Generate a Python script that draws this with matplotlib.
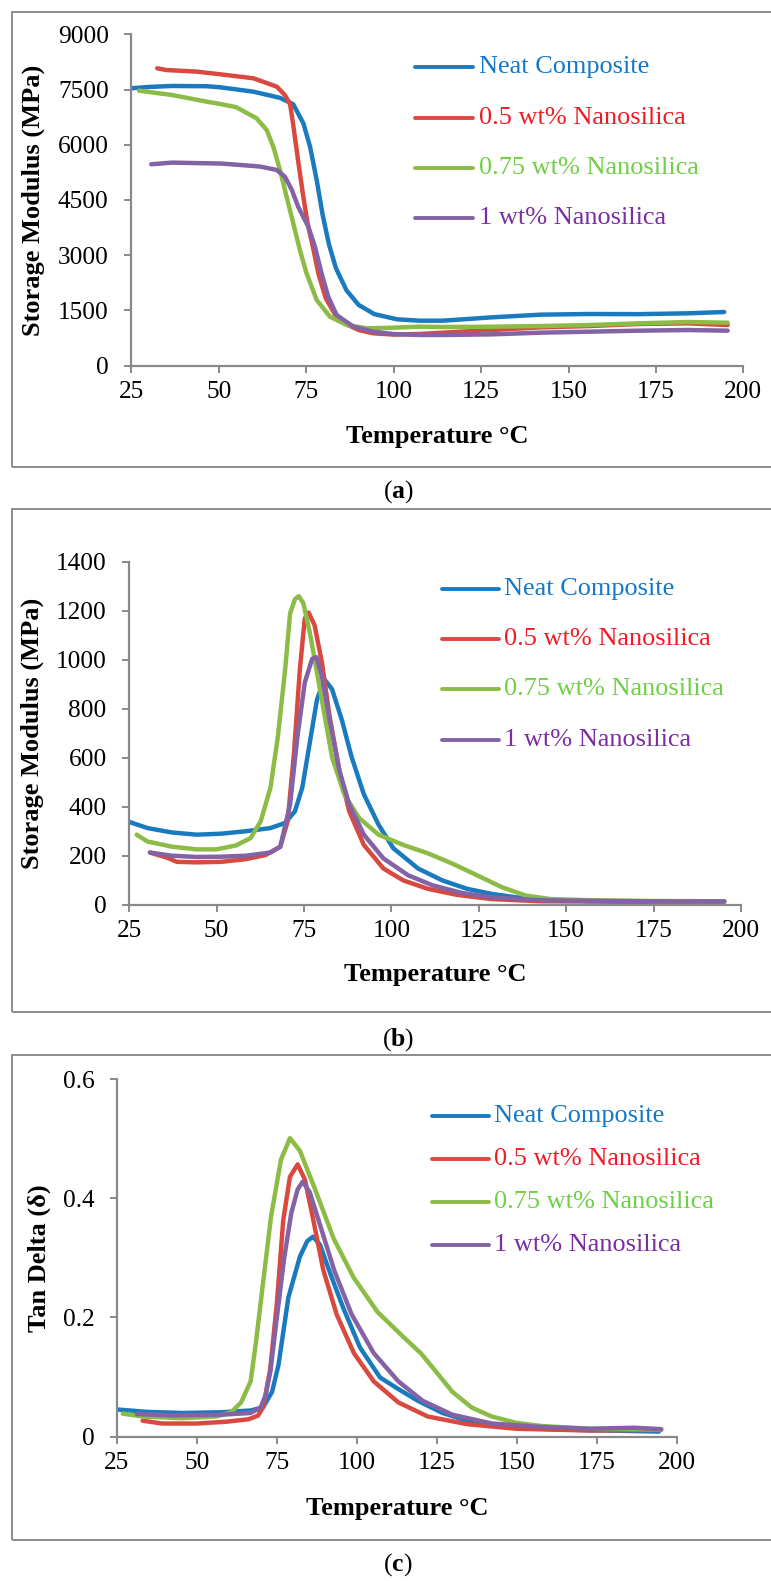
import matplotlib
matplotlib.use("Agg")
import matplotlib.pyplot as plt
from matplotlib.lines import Line2D
from matplotlib.patches import Rectangle

plt.rcParams['font.family'] = ['Liberation Serif', 'DejaVu Serif']
plt.rcParams['mathtext.fontset'] = 'custom'
plt.rcParams['mathtext.rm'] = 'Liberation Serif'
plt.rcParams['mathtext.bf'] = 'Liberation Serif:bold'

# series names and colours
names = ["Neat Composite", "0.5 wt% Nanosilica", "0.75 wt% Nanosilica", "1 wt% Nanosilica"]
line_cols = ["#1a7abf", "#d9493f", "#8cbb46", "#8362a5"]
text_cols = ["#1478c8", "#ee1c25", "#6fcf45", "#7a2ea2"]

# (a) storage modulus
a_neat_T = [25, 30, 36.6, 46.5, 50.4, 59.9, 67.5, 71.3, 74.2, 76.1, 78, 79.7, 81.5, 83.5, 86.5, 90, 94.5, 101, 107.5, 114, 128, 142, 156, 170, 184, 194.5]
a_neat_E = [7534, 7570, 7597, 7590, 7561, 7442, 7275, 7100, 6580, 5950, 5044, 4100, 3300, 2650, 2050, 1650, 1400, 1260, 1222, 1222, 1313, 1386, 1404, 1400, 1422, 1458]
a_05_T = [32.4, 35, 43.7, 52, 59.9, 66.6, 68.9, 70.4, 71.3, 72.6, 74, 75.4, 77, 78.5, 80.6, 83.2, 86.6, 90, 94.2, 100, 107.5, 114, 128, 142, 156, 170, 184, 195.5]
a_05_E = [8077, 8030, 7987, 7896, 7806, 7578, 7352, 7100, 6540, 5630, 4700, 3868, 3190, 2500, 1830, 1400, 1120, 970, 880, 845, 861, 897, 969, 1041, 1077, 1132, 1150, 1105]
a_075_T = [27.2, 36.6, 46.5, 50.4, 55, 60.8, 63.7, 65.6, 67.5, 69.4, 71.3, 73.2, 75.1, 78, 81.8, 86.6, 92.3, 99.9, 107.5, 114, 128, 142, 156, 170, 184, 195.5]
a_075_E = [7469, 7352, 7171, 7108, 7020, 6719, 6402, 5948, 5315, 4590, 3868, 3142, 2510, 1784, 1331, 1105, 1016, 1032, 1060, 1050, 1059, 1077, 1104, 1150, 1186, 1168]
a_1_T = [30.7, 36.6, 50.7, 59.9, 62, 66.6, 68.9, 70.9, 72.7, 75.6, 77.5, 79.4, 81.3, 83.7, 88.5, 94.2, 100, 107.5, 114, 128, 142, 156, 170, 184, 195.5]
a_1_E = [5470, 5515, 5490, 5424, 5406, 5315, 5134, 4772, 4319, 3775, 3232, 2510, 1874, 1377, 1060, 924, 860, 834, 834, 851, 897, 924, 951, 969, 951]

# (b) second modulus panel
b_neat_T = [25, 30.2, 37.2, 44.3, 51.3, 58.3, 65.4, 69.6, 72.4, 74.5, 76.6, 78.7, 80.8, 83, 85.8, 88.6, 92.1, 96.3, 100.5, 107.6, 114.6, 121.6, 128.7, 135.7, 142.7, 156.8, 175, 195.2]
b_neat_E = [338, 313, 295, 286, 290, 300, 313, 334, 382, 479, 659, 838, 921, 880, 755, 603, 451, 327, 231, 148, 99, 65, 44, 30, 21, 15, 14, 14]
b_05_T = [30.9, 35.8, 38.6, 44.3, 51.3, 58.3, 64, 68.2, 70.3, 72.1, 73.8, 75.2, 76.3, 78, 80.1, 82.3, 85.1, 87.9, 92.1, 97.7, 103.4, 110.4, 118.8, 128.7, 142.7, 170, 195.2]
b_05_E = [213, 192, 175, 173, 175, 186, 203, 237, 341, 617, 962, 1169, 1193, 1142, 990, 769, 548, 382, 244, 148, 99, 65, 40, 23, 14, 12, 12]
b_075_T = [27.1, 30.2, 37.2, 44.3, 49.9, 55.5, 59.7, 62.6, 65.4, 67.5, 69.6, 71, 72.4, 73.5, 74.8, 76.7, 78.6, 80.5, 83, 86.5, 90.7, 96.3, 103.4, 110.4, 117.4, 124.5, 131.5, 138.5, 145.6, 156.8, 175, 195.2]
b_075_E = [286, 258, 237, 226, 226, 242, 272, 341, 479, 686, 962, 1190, 1248, 1260, 1231, 1107, 955, 804, 603, 451, 355, 286, 244, 210, 168, 120, 72, 37, 23, 18, 15, 14]
b_1_T = [30.9, 37.2, 44.3, 51.3, 58.3, 65.4, 68.2, 71, 73.1, 75.2, 77.3, 78.5, 80.1, 82.3, 85.1, 87.9, 92.1, 97.7, 104.8, 111.8, 120.2, 128.7, 142.7, 170, 195.2]
b_1_E = [213, 200, 195, 196, 200, 213, 237, 410, 686, 907, 1004, 1011, 935, 755, 548, 410, 286, 189, 120, 79, 48, 30, 18, 14, 13]

# (c) tan delta
c_neat_T = [25, 34.5, 45.3, 57.6, 66.8, 70.7, 73.5, 75.5, 78.6, 82.2, 84.5, 86.3, 88.5, 90.6, 93, 95.8, 101, 107.3, 113.5, 119.1, 126.8, 134.5, 142.2, 157.6, 172.9, 194.5]
c_neat_D = [0.0454, 0.0413, 0.0395, 0.0407, 0.0437, 0.049, 0.075, 0.12, 0.2335, 0.302, 0.328, 0.3355, 0.322, 0.29, 0.255, 0.2155, 0.1495, 0.099, 0.078, 0.06, 0.0395, 0.0266, 0.0189, 0.013, 0.0106, 0.0083]
c_05_T = [33, 39.1, 49.9, 59.1, 66.1, 69.1, 70.8, 72.2, 72.9, 75, 77, 79.1, 81.5, 83.8, 86.4, 89.5, 93.7, 99.1, 105.3, 113, 122.2, 134.5, 149.9, 172.9, 195.2]
c_05_D = [0.0266, 0.0218, 0.0218, 0.0248, 0.0289, 0.035, 0.05, 0.0926, 0.112, 0.2236, 0.3636, 0.436, 0.457, 0.431, 0.3636, 0.28, 0.205, 0.14, 0.0926, 0.0572, 0.0336, 0.0207, 0.013, 0.01, 0.0112]
c_075_T = [26.8, 33, 45.3, 56.1, 60.7, 63.8, 66.8, 68.5, 70.5, 73.2, 76.3, 79.1, 82.2, 86.6, 92.8, 99, 106.5, 115, 120, 123.7, 129.9, 136, 142.2, 149.9, 157.6, 172.9, 195.2]
c_075_D = [0.0384, 0.0336, 0.0307, 0.0336, 0.0407, 0.0572, 0.0926, 0.16, 0.25, 0.37, 0.465, 0.501, 0.48, 0.42, 0.332, 0.267, 0.209, 0.165, 0.14, 0.116, 0.075, 0.0484, 0.0336, 0.023, 0.0177, 0.013, 0.0118]
c_1_T = [31.2, 42.2, 57.6, 66.8, 69.9, 71.5, 73, 75, 77.3, 79.5, 81.5, 83.1, 85.3, 89.1, 93, 98.4, 105.3, 113, 120.6, 129.9, 142.2, 157.6, 172.9, 186.8, 195.2]
c_1_D = [0.0378, 0.0354, 0.0366, 0.0395, 0.0484, 0.07, 0.11, 0.2, 0.3, 0.375, 0.415, 0.428, 0.41, 0.345, 0.278, 0.205, 0.14, 0.0926, 0.06, 0.0366, 0.0218, 0.016, 0.013, 0.0147, 0.0124]

x_ticks = [25, 50, 75, 100, 125, 150, 175, 200]

W, H = 771, 1581
fig = plt.figure(figsize=(W / 100, H / 100), dpi=100)
GRAY = "#898989"


def fx(x):
    return x / W


def fy(y):
    return 1 - y / H


def make_axes(l, t, r, b):
    ax = fig.add_axes([fx(l), fy(b), (r - l) / W, (b - t) / H])
    for s in ["top", "right"]:
        ax.spines[s].set_visible(False)
    for s in ["left", "bottom"]:
        ax.spines[s].set_color(GRAY)
        ax.spines[s].set_linewidth(1.6)
    ax.tick_params(axis="both", direction="out", length=5.3, width=1.4, color=GRAY,
                   labelsize=18.3, labelcolor="black")
    ax.tick_params(axis="y", pad=11)
    ax.tick_params(axis="x", pad=6)
    ax.set_xlim(25, 200)
    ax.set_xticks(x_ticks)
    ax.set_xticklabels([str(v) for v in x_ticks])
    return ax


def panel(ax, series, legend_x, legend_rows, box, cap_y, ylab, ylab_pos, xlab_pos):
    for (xs, ys), c in zip(series, line_cols):
        ax.plot(xs, ys, color=c, lw=3.2, solid_capstyle="round", solid_joinstyle="round")
    lx0, lx1, tx = legend_x
    for name, lc, tc, ry in zip(names, line_cols, text_cols, legend_rows):
        fig.add_artist(Line2D([fx(lx0), fx(lx1)], [fy(ry), fy(ry)], color=lc, lw=2.8,
                              transform=fig.transFigure, solid_capstyle="round"))
        fig.text(fx(tx), fy(ry), name, color=tc, fontsize=18.9, ha="left", va="center")
    bl, bt, bb = box
    fig.add_artist(Rectangle((fx(bl), fy(bb)), (780 - bl) / W, (bb - bt) / H, fill=False,
                             edgecolor="#8c8c8c", lw=1.4, transform=fig.transFigure))
    fig.text(fx(ylab_pos[0]), fy(ylab_pos[1]), ylab, rotation=90, fontsize=19,
             fontweight="bold", ha="center", va="center")
    fig.text(fx(xlab_pos[0]), fy(xlab_pos[1]), "Temperature °C", fontsize=19,
             fontweight="bold", ha="center", va="center")
    fig.text(fx(398), fy(cap_y), cap_text, fontsize=18.5, ha="center", va="center")


# panel (a)
ax1 = make_axes(131.3, 34.3, 743.4, 365.7)
ax1.set_ylim(0, 9000)
ax1.set_yticks(range(0, 9001, 1500))
cap_text = r"($\mathbf{a}$)"
panel(ax1, [(a_neat_T, a_neat_E), (a_05_T, a_05_E), (a_075_T, a_075_E), (a_1_T, a_1_E)],
      (415, 473, 479), [66.7, 117.7, 168.3, 218.3], (11.5, 11.7, 466.7), 492,
      "Storage Modulus (MPa)", (33, 200), (437, 436.7))

# panel (b)
ax2 = make_axes(129.3, 561.9, 741, 904.7)
ax2.set_ylim(0, 1400)
ax2.set_yticks(range(0, 1401, 200))
cap_text = r"($\mathbf{b}$)"
panel(ax2, [(b_neat_T, b_neat_E), (b_05_T, b_05_E), (b_075_T, b_075_E), (b_1_T, b_1_E)],
      (441.5, 499, 504), [588.9, 639.3, 689.3, 740], (11.5, 509.5, 1012), 1040,
      "Storage Modulus (MPa)", (32, 733), (435, 975))

# panel (c)
ax3 = make_axes(117, 1079.2, 676.5, 1436.5)
ax3.set_ylim(0, 0.6)
ax3.set_yticks([0, 0.2, 0.4, 0.6])
ax3.set_yticklabels(["0", "0.2", "0.4", "0.6"])
cap_text = r"($\mathbf{c}$)"
panel(ax3, [(c_neat_T, c_neat_D), (c_05_T, c_05_D), (c_075_T, c_075_D), (c_1_T, c_1_D)],
      (431.7, 489, 494), [1116.1, 1159, 1202.2, 1245], (11.5, 1054.6, 1540), 1565,
      "Tan Delta (δ)", (39, 1258), (397.5, 1508))

fig.savefig("out.png", dpi=100)
